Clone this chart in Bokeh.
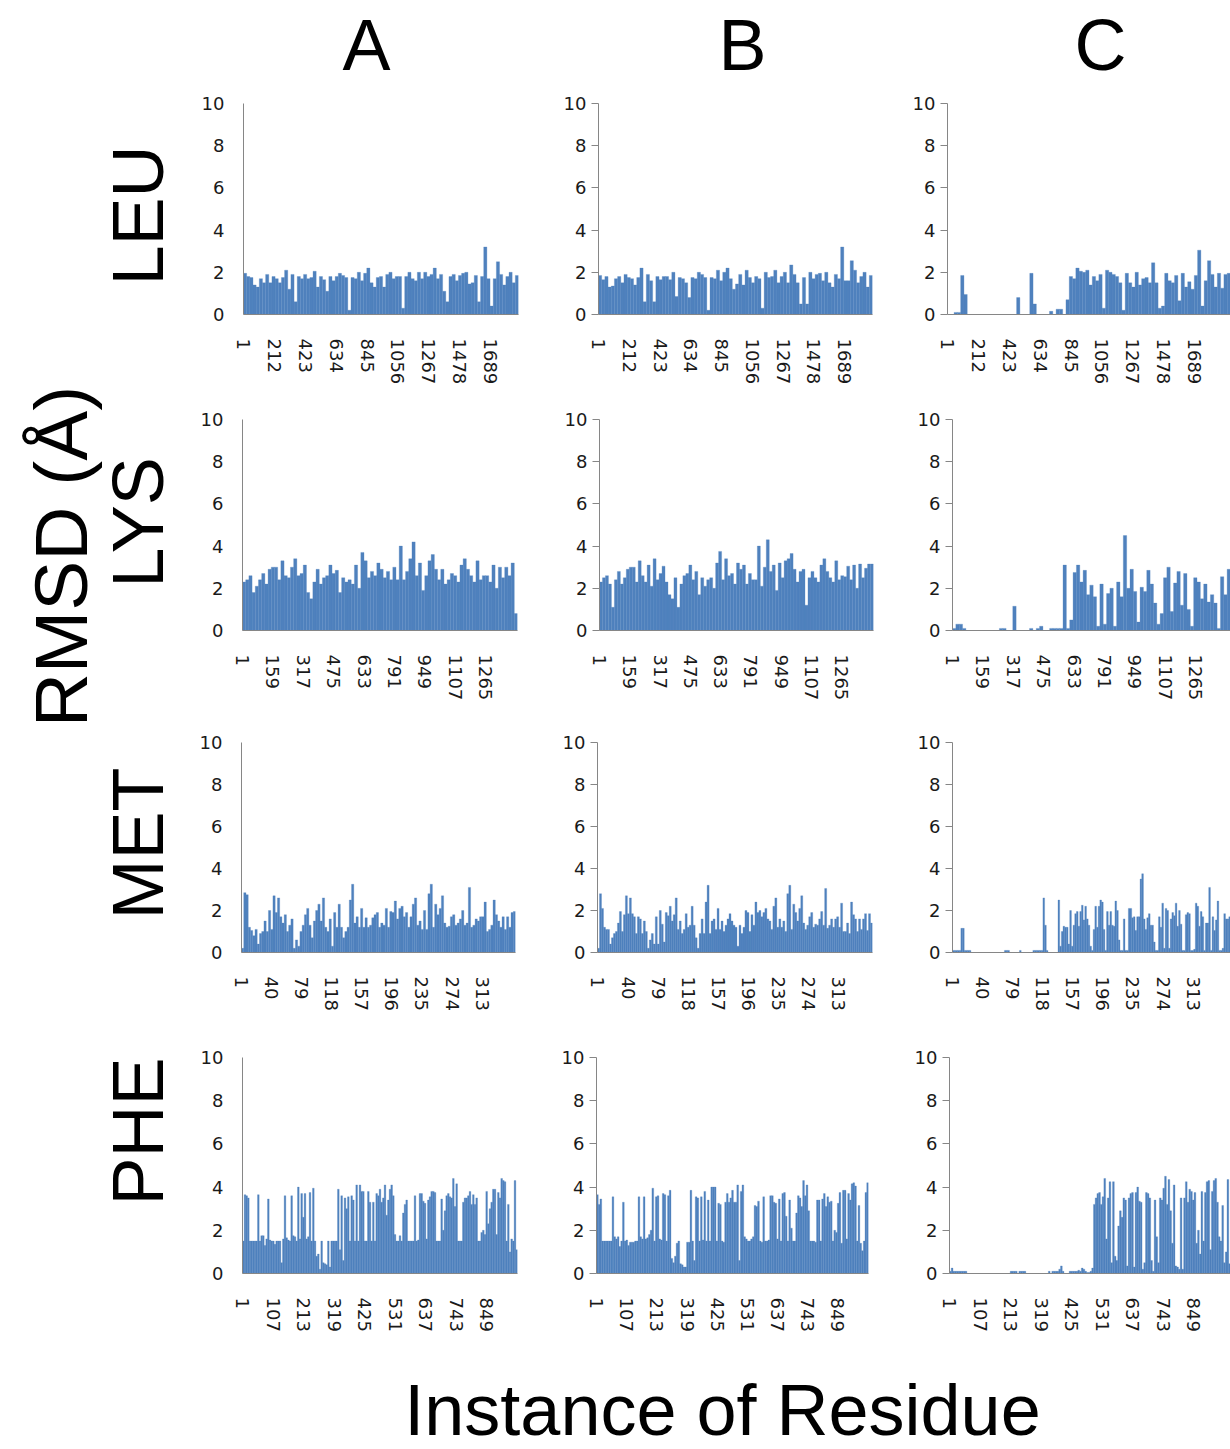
import numpy as np
from bokeh.plotting import figure
from bokeh.layouts import row, column
from bokeh.models import Range1d, FixedTicker
from bokeh.core.properties import value
from bokeh.embed import file_html
from bokeh.resources import INLINE

# ---------------- data ----------------
residues = ["LEU", "LYS", "MET", "PHE"]
column_names = ["A", "B", "C"]
y_label = "RMSD (Å)"
x_label = "Instance of Residue"

instance_counts = {"LEU": 1880, "LYS": 1430, "MET": 356, "PHE": 956}

tick_labels = {
    "LEU": [1, 212, 423, 634, 845, 1056, 1267, 1478, 1689],
    "LYS": [1, 159, 317, 475, 633, 791, 949, 1107, 1265],
    "MET": [1, 40, 79, 118, 157, 196, 235, 274, 313],
    "PHE": [1, 107, 213, 319, 425, 531, 637, 743, 849],
}
y_ticks = [0, 2, 4, 6, 8, 10]

leu_a = [1.95, 1.8, 1.75, 1.4, 1.3, 1.7, 1.5, 1.9, 1.5, 1.8, 1.7, 1.5, 1.75, 2.1, 1.2, 1.9, 0.6, 1.8, 1.7, 1.9,
         1.7, 1.75, 2.05, 1.3, 1.8, 1.65, 1.1, 1.8, 1.6, 1.8, 1.95, 1.85, 1.75, 0.2, 1.75, 1.7, 2.0, 1.6, 1.95, 2.2,
         1.5, 1.3, 1.75, 1.8, 1.3, 1.9, 2.0, 1.7, 1.8, 1.8, 0.3, 1.8, 2.0, 1.7, 1.6, 2.0, 1.7, 2.0, 1.8, 1.9,
         2.2, 1.7, 1.9, 1.1, 0.6, 1.8, 1.9, 1.6, 1.85, 1.95, 2.0, 1.45, 1.5, 1.85, 0.6, 1.8, 3.2, 1.7, 0.4, 1.7,
         2.5, 1.9, 1.4, 1.8, 2.0, 1.5, 1.85]
leu_b = [1.85, 1.65, 1.8, 1.3, 1.35, 1.7, 1.8, 1.5, 1.9, 1.75, 1.7, 1.4, 1.75, 2.2, 0.6, 1.9, 1.6, 0.6, 1.8, 1.65,
         1.8, 1.8, 1.65, 2.0, 0.85, 1.75, 1.7, 1.5, 0.8, 1.75, 1.7, 2.0, 1.9, 1.75, 0.2, 1.75, 1.7, 2.1, 1.6, 2.0,
         2.2, 1.7, 1.2, 1.45, 1.9, 1.4, 2.1, 1.75, 1.5, 1.8, 1.7, 0.3, 2.0, 1.75, 1.8, 2.1, 1.5, 1.8, 2.0, 1.5,
         2.35, 1.9, 1.5, 0.5, 1.75, 0.5, 2.0, 1.7, 1.9, 1.95, 1.6, 2.0, 1.5, 1.3, 1.9, 1.7, 3.2, 1.6, 1.6, 2.55,
         2.1, 1.5, 1.8, 2.0, 1.3, 1.85]
leu_c = [0, 0, 0.1, 0.1, 1.85, 0.95, 0, 0, 0, 0, 0, 0, 0, 0, 0, 0, 0, 0, 0, 0,
         0, 0.8, 0, 0, 0, 1.95, 0.5, 0, 0, 0, 0, 0.15, 0, 0.25, 0.25, 0, 0.7, 1.8, 1.7, 2.2,
         2.05, 2.0, 2.1, 1.4, 1.8, 1.6, 1.9, 0.3, 2.1, 2.0, 1.9, 1.8, 1.5, 0.2, 1.95, 1.5, 1.3, 2.0, 1.4, 1.7,
         1.75, 1.5, 2.45, 1.5, 0.3, 0.4, 1.95, 1.6, 1.5, 1.85, 0.65, 1.95, 1.3, 1.55, 1.2, 1.85, 3.05, 0.4, 1.6, 2.55,
         1.9, 1.3, 1.95, 1.25, 1.9, 1.95]

lys_a = [2.3, 2.4, 2.6, 1.8, 2.1, 2.4, 2.7, 2.2, 2.9, 3.0, 3.0, 2.4, 3.3, 2.6, 2.5, 3.0, 3.4, 2.6, 2.7, 3.1,
         1.8, 1.5, 2.3, 2.9, 2.2, 2.5, 2.6, 3.1, 2.7, 2.85, 1.8, 2.5, 2.3, 2.4, 2.2, 3.1, 2.0, 3.7, 3.3, 2.5,
         2.8, 2.6, 3.2, 2.9, 2.5, 2.8, 2.4, 3.0, 2.4, 4.0, 2.4, 2.8, 3.4, 4.2, 2.6, 3.2, 1.9, 2.6, 3.3, 3.6,
         2.9, 2.4, 2.9, 2.2, 2.4, 2.7, 2.6, 2.3, 3.1, 3.4, 2.9, 2.6, 2.3, 3.3, 2.4, 2.6, 2.6, 2.3, 3.1, 2.0,
         3.0, 2.5, 3.0, 2.6, 3.2, 0.8]
lys_b = [2.3, 2.5, 2.6, 2.2, 1.1, 2.4, 2.8, 2.2, 2.5, 2.9, 3.0, 3.0, 2.3, 3.3, 2.6, 2.3, 3.1, 2.1, 3.4, 2.4,
         2.7, 3.05, 2.3, 1.7, 1.5, 2.5, 1.1, 2.2, 2.6, 2.7, 3.1, 2.4, 2.8, 1.7, 2.5, 2.1, 2.4, 2.5, 2.0, 3.2,
         3.75, 2.4, 3.4, 2.6, 2.7, 2.2, 3.2, 2.9, 3.1, 2.2, 2.7, 2.4, 2.4, 4.0, 2.1, 3.0, 4.3, 2.8, 3.1, 1.9,
         3.2, 2.5, 3.3, 3.4, 3.65, 2.9, 2.3, 2.8, 2.9, 1.2, 2.5, 2.8, 2.5, 2.3, 3.1, 3.4, 2.8, 2.5, 2.3, 3.3,
         2.4, 2.6, 2.55, 3.05, 2.4, 3.1, 2.0, 3.15, 2.5, 2.95, 3.15, 3.15]
lys_c = [0.1, 0.3, 0.3, 0.1, 0, 0, 0, 0, 0, 0, 0, 0, 0, 0, 0.1, 0.1, 0, 0, 1.15, 0,
         0, 0, 0, 0.1, 0, 0.1, 0.2, 0, 0, 0.1, 0.1, 0.1, 0.1, 3.1, 0.1, 0.5, 2.75, 3.1, 2.3, 2.85,
         1.7, 2.15, 1.6, 0.2, 2.2, 0.3, 1.75, 2.0, 0.2, 2.3, 1.6, 4.5, 2.0, 2.9, 1.85, 0.4, 2.05, 1.85, 2.85, 2.2,
         1.3, 0.3, 0.8, 2.5, 3.0, 0.9, 2.25, 2.8, 1.2, 2.7, 1.0, 0.2, 2.5, 2.3, 1.5, 2.2, 1.35, 1.7, 1.3, 0.1,
         2.55, 1.7, 2.9]

met_a = [0.2, 2.85, 2.75, 1.2, 1.05, 0.8, 1.1, 0.4, 0.9, 1.0, 1.5, 1.0, 2.0, 1.1, 2.7, 1.9, 2.6, 1.7, 1.4, 1.8,
         1.0, 1.3, 1.6, 0.2, 0.6, 0.3, 1.0, 1.3, 1.8, 2.1, 1.3, 0.7, 1.5, 2.0, 2.3, 1.5, 2.6, 1.2, 1.0, 1.6,
         0.3, 1.9, 1.2, 2.3, 1.2, 0.7, 1.0, 1.2, 2.5, 3.25, 1.4, 1.7, 1.2, 2.1, 1.2, 1.65, 1.2, 1.3, 1.65, 1.8,
         1.9, 1.2, 1.4, 1.3, 2.1, 1.2, 1.95, 1.9, 2.45, 1.6, 2.1, 2.2, 1.7, 1.9, 1.2, 1.7, 2.3, 2.6, 1.3, 1.5,
         1.1, 2.0, 1.1, 2.8, 3.25, 1.2, 2.3, 1.8, 2.1, 2.7, 1.4, 1.2, 1.25, 1.7, 1.8, 1.3, 1.4, 1.6, 2.0, 1.3,
         1.4, 3.1, 1.2, 1.3, 1.6, 1.5, 1.7, 1.7, 2.4, 1.0, 1.1, 1.3, 2.5, 1.8, 1.5, 1.2, 1.7, 1.1, 1.7, 1.2,
         1.9, 1.95]
met_b = [0.2, 2.8, 2.1, 1.2, 1.1, 1.1, 0.4, 0.7, 0.9, 1.0, 1.4, 1.95, 1.0, 1.8, 2.7, 1.85, 2.6, 1.85, 1.7, 0.9,
         1.7, 1.6, 0.9, 1.5, 1.0, 0.2, 0.6, 0.9, 0.4, 1.7, 0.4, 2.0, 1.35, 0.5, 1.9, 1.75, 2.2, 1.5, 1.8, 2.6,
         1.1, 1.5, 0.9, 1.1, 1.85, 1.2, 1.3, 2.2, 1.3, 0.7, 0.2, 0.9, 1.6, 0.9, 2.4, 3.2, 0.9, 1.5, 1.6, 1.1,
         2.1, 1.1, 1.5, 1.0, 1.3, 1.6, 1.85, 1.5, 1.3, 1.2, 0.3, 1.3, 0.9, 1.2, 2.0, 1.9, 1.0, 1.8, 1.3, 2.4,
         1.9, 2.0, 1.7, 1.9, 2.1, 1.6, 1.5, 1.1, 2.2, 2.6, 1.2, 1.6, 1.2, 1.5, 1.0, 2.8, 3.2, 1.1, 2.3, 1.9,
         1.5, 2.1, 2.7, 1.4, 1.1, 1.3, 1.7, 1.9, 1.2, 1.35, 1.3, 1.6, 1.95, 1.3, 3.05, 1.15, 1.3, 1.6, 1.2, 1.6,
         1.7, 1.2, 2.35, 1.0, 1.0, 1.4, 0.9, 2.4, 1.8, 1.6, 1.0, 1.6, 1.1, 1.6, 1.85, 1.05, 1.85, 1.4]
met_c = [0.1, 0.1, 0.1, 0.1, 0.1, 1.15, 1.15, 0.1, 0.1, 0.1, 0.1, 0, 0, 0, 0, 0, 0, 0, 0, 0,
         0, 0, 0, 0, 0, 0, 0, 0, 0, 0, 0, 0.1, 0.1, 0.1, 0, 0, 0, 0, 0, 0, 0.1,
         0, 0, 0, 0, 0, 0, 0, 0.1, 0.1, 0.1, 0.1, 0.1, 0.1, 2.6, 1.3, 0.1, 0, 0, 0, 0, 0, 0,
         2.5, 0.3, 1.0, 1.25, 1.2, 1.2, 0.4, 2.0, 0.3, 1.3,
         1.85, 1.95, 1.25, 1.95, 2.25, 1.55, 2.2, 1.6, 1.3, 0.3, 0.1, 1.1, 2.2, 1.2, 2.2, 2.5, 2.4, 1.1, 0.1, 1.95,
         1.3, 1.95, 1.3, 1.25, 2.45, 2.0, 0.6, 0.1, 0.1, 1.6, 0.1, 0.1, 2.1, 2.1, 1.65, 1.7, 1.05, 1.7, 1.7, 3.5,
         3.75, 1.6, 1.1, 1.65, 1.85, 1.3, 1.3, 0.5, 0.1, 0.1, 1.7, 1.2, 2.35, 0.2, 2.1, 2.0, 0.2, 1.6, 1.9, 1.75,
         2.35, 1.25, 2.0, 1.35, 0.1, 0.1, 1.8, 1.9, 1.85, 0.1, 0.1, 0.15, 2.35, 2.2, 1.25, 1.95, 1.7, 0.1, 1.4, 1.4,
         3.1, 0.1, 1.7, 1.05, 1.55, 2.45, 0.1, 0.1, 0.2, 1.85, 1.6, 1.6, 1.7]

phe_a = [1.5, 3.65, 3.6, 3.5, 1.5, 1.5, 1.5, 1.5, 1.5, 3.65, 1.5, 1.75, 1.75, 1.3, 1.6, 3.45, 1.55, 1.5, 1.5, 1.35,
         1.5, 1.5, 1.5, 0.5, 1.6, 3.6, 1.65, 1.55, 1.5, 3.6, 1.75, 1.7, 1.5, 4.0, 1.6, 3.7, 2.6, 3.7, 1.6, 1.7,
         3.75, 1.5, 3.95, 1.5, 0.8, 0.9, 0.2, 1.5, 0.5, 0.45, 0.4, 1.5, 0.3, 1.5, 1.5, 1.5, 1.5, 3.9, 1.1, 3.6,
         0.6, 3.5, 3.0, 3.55, 1.5, 3.6, 3.4, 1.5, 4.1, 1.5, 4.1, 3.8, 3.8, 1.5, 1.5, 3.8, 3.3, 1.5, 3.3, 1.5,
         3.7, 3.6, 3.9, 3.3, 3.5, 4.1, 2.7, 3.4, 3.9, 4.1, 3.6, 1.8, 1.5, 1.5, 1.75, 1.5, 2.8, 3.2, 3.4, 1.5,
         1.5, 1.5, 1.5, 3.6, 1.5, 1.55, 3.7, 3.7, 3.35, 3.25, 1.6, 3.4, 3.55, 3.8, 3.8, 3.75, 1.5, 1.5, 1.5, 3.45,
         2.0, 2.9, 3.6, 3.7, 3.55, 3.5, 4.4, 3.1, 4.15, 1.5, 1.5, 1.5, 3.3, 3.5, 3.5, 3.6, 3.8, 3.2, 3.65, 3.2,
         3.5, 1.5, 1.5, 1.9, 2.0, 1.8, 3.8, 2.3, 3.0, 3.3, 3.9, 3.9, 1.8, 3.75, 3.5, 4.4, 4.3, 4.25, 1.5, 3.2,
         1.0, 1.6, 1.5, 4.3, 1.1]
phe_b = [3.65, 3.2, 3.45, 1.5, 1.5, 1.5, 1.5, 1.5, 1.5, 3.55, 1.7, 1.6, 1.7, 1.25, 1.5, 3.3, 1.5, 1.55, 1.3, 1.45,
         1.45, 1.45, 1.5, 1.5, 3.55, 1.7, 1.6, 3.55, 1.6, 1.65, 1.8, 2.0, 3.95, 1.5, 3.55, 3.6, 1.6, 1.55, 3.7, 3.65,
         1.5, 3.6, 3.85, 0.7, 0.5, 0.8, 1.4, 1.5, 0.45, 0.4, 0.3, 0.3, 1.45, 1.45, 3.85, 1.5, 0.6, 3.55, 3.5, 1.5,
         3.55, 1.55, 3.8, 1.5, 3.4, 1.5, 4.0, 4.0, 4.0, 1.5, 3.25, 3.2, 1.5, 1.45, 3.3, 3.7, 3.3, 3.5, 3.85, 3.3,
         3.3, 4.1, 0.6, 3.8, 4.1, 1.7, 1.6, 1.5, 1.5, 1.6, 1.7, 3.15, 3.1, 3.35, 1.5, 1.45, 3.55, 1.5, 1.5, 1.55,
         3.6, 3.6, 3.3, 3.25, 1.6, 3.45, 1.5, 3.7, 3.75, 2.65, 1.5, 3.4, 2.1, 1.5, 1.5, 2.8, 3.6, 3.5, 3.1, 4.3,
         3.6, 4.1, 2.9, 1.5, 1.5, 1.5, 1.45, 3.4, 3.4, 1.5, 3.45, 3.7, 3.1, 3.55, 3.3, 3.35, 1.5, 2.0, 1.9, 3.25,
         3.75, 1.4, 3.85, 3.85, 1.6, 3.7, 3.4, 4.15, 4.2, 4.05, 1.5, 3.15, 1.4, 1.05, 1.5, 3.75, 4.2]
phe_c = [0.1, 0.25, 0.1, 0.1, 0.1, 0.1, 0.1, 0.1, 0.1, 0.1, 0, 0, 0, 0, 0, 0, 0, 0, 0, 0,
         0, 0, 0, 0, 0, 0, 0, 0, 0, 0, 0, 0, 0, 0, 0, 0.1, 0.1, 0.1, 0.1, 0,
         0.1, 0.1, 0.1, 0.1, 0, 0, 0, 0, 0, 0, 0, 0, 0, 0, 0, 0, 0, 0.1, 0, 0.1,
         0.1, 0.1, 0.1, 0.2, 0.35, 0.1, 0, 0, 0, 0.1, 0.1, 0.1, 0.1, 0.1, 0.15, 0.1, 0.25, 0.2, 0.1, 0.05,
         0.05, 0.1, 0.25, 3.2, 3.5, 3.7, 3.75, 3.2, 3.55, 4.4, 1.6, 3.5, 4.25, 0.5, 4.25, 0.8, 0.6, 2.2, 2.9, 2.6,
         3.5, 3.4, 0.35, 3.5, 3.7, 3.75, 0.3, 3.75, 4.0, 3.35, 3.3, 0.2, 0.5, 3.75, 3.7, 3.5, 0.6, 0.1, 3.4, 1.7,
         0.5, 3.5, 3.4, 3.95, 4.5, 3.2, 4.35, 2.9, 1.4, 4.1, 0.35, 0.3, 0.2, 3.5, 0.2, 3.5, 4.25, 3.3, 3.9, 3.8,
         3.4, 3.75, 1.4, 2.0, 0.9, 3.8, 1.5, 3.75, 4.25, 4.3, 1.1, 3.8, 4.3, 4.4, 3.3, 1.7, 1.5, 3.15, 0.5, 1.0,
         4.35, 0.45]

series = {
    ("LEU", "A"): leu_a, ("LEU", "B"): leu_b, ("LEU", "C"): leu_c,
    ("LYS", "A"): lys_a, ("LYS", "B"): lys_b, ("LYS", "C"): lys_c,
    ("MET", "A"): met_a, ("MET", "B"): met_b, ("MET", "C"): met_c,
    ("PHE", "A"): phe_a, ("PHE", "B"): phe_b, ("PHE", "C"): phe_c,
}

# ---------------- layout / style ----------------
BAR = "#4F81BD"
AXIS = "#868686"
TICK_FONT = "DejaVu Sans"
BIG_FONT = "Liberation Sans"

col_widths = {"A": 360, "B": 355, "C": 335}
row_heights = [317, 320, 320, 320]
# (border_left, border_right, border_top, border_bottom) per panel
geom = {
    ("LEU", "A"): (63, 22, 13, 89), ("LEU", "B"): (58, 23, 15, 90), ("LEU", "C"): (52, 0, 8, 91),
    ("LYS", "A"): (62, 23, 14, 90), ("LYS", "B"): (59, 22, 13, 95), ("LYS", "C"): (57, 0, 12, 92),
    ("MET", "A"): (61, 25, 17, 88), ("MET", "B"): (57, 23, 13, 88), ("MET", "C"): (57, 0, 8, 93),
    ("PHE", "A"): (62, 23, 12, 92), ("PHE", "B"): (56, 27, 11, 86), ("PHE", "C"): (54, 0, 11, 91),
}


def make_panel(res, col, h):
    w = col_widths[col]
    bl, br, bt, bb = geom[(res, col)]
    n = instance_counts[res]
    if col == "C":
        fa = col_widths["A"] - geom[(res, "A")][0] - geom[(res, "A")][1]
        fc = w - bl - br
        n = n * fc / fa  # visible part of the cut-off panel
    vals = np.array(series[(res, col)], dtype=float)
    m = len(vals)
    step = n / m
    xs = 0.5 + step * (np.arange(m) + 0.5)
    p = figure(width=w, height=h, x_range=Range1d(0.5, 0.5 + n), y_range=Range1d(0, 10),
               output_backend="svg", toolbar_location=None,
               min_border_left=bl, min_border_right=br, min_border_top=bt, min_border_bottom=bb)
    p.vbar(x=xs, width=step, top=vals, bottom=0, fill_color=BAR, line_color=BAR, line_width=0.3)
    p.outline_line_color = None
    p.grid.visible = False
    p.background_fill_color = "white"
    p.border_fill_color = "white"

    ya = p.yaxis[0]
    ya.ticker = FixedTicker(ticks=y_ticks)
    ya.axis_line_color = AXIS
    ya.axis_line_width = 1
    ya.major_tick_line_color = None if col == "A" else AXIS
    ya.major_tick_out = 7
    ya.major_tick_in = 0
    ya.minor_tick_line_color = None
    ya.major_label_text_font = TICK_FONT
    ya.major_label_text_font_size = "18px"
    ya.major_label_text_color = "#1a1a1a"
    ya.major_label_standoff = 5 if col != "A" else 12

    xa = p.xaxis[0]
    xa.ticker = FixedTicker(ticks=tick_labels[res])
    xa.axis_line_color = AXIS
    xa.major_tick_line_color = None
    xa.minor_tick_line_color = None
    xa.major_label_orientation = "vertical"
    xa.major_label_text_font = TICK_FONT
    xa.major_label_text_font_size = "18px"
    xa.major_label_text_color = "#1a1a1a"
    xa.major_label_standoff = 18
    return p


def blank(w, h):
    p = figure(width=w, height=h, x_range=Range1d(0, w), y_range=Range1d(0, h),
               output_backend="svg", toolbar_location=None, min_border=0)
    p.axis.visible = False
    p.grid.visible = False
    p.outline_line_color = None
    return p


BIG = "72px"

# header with column letters (positions are cap centres)
top = blank(1230, 88)
top.text(x=[366, 742, 1100], y=[44, 44, 44], text=column_names, text_align="center",
         text_baseline="middle", text_font=value(BIG_FONT), text_font_size=BIG, text_color="black")

# left side labels
left_h = sum(row_heights)
left = blank(180, left_h)
left.text(x=[137, 137, 137, 137], y=[1150, 843, 522, 234], text=residues, angle=np.pi / 2,
          text_align="center", text_baseline="middle", text_font=value(BIG_FONT),
          text_font_size=BIG, text_color="black")
left.text(x=[60], y=[809], text=[y_label], angle=np.pi / 2, text_align="center",
          text_baseline="middle", text_font=value(BIG_FONT), text_font_size="75px", text_color="black")

# bottom label
bottom = blank(1230, 84)
bottom.text(x=[722], y=[39.5], text=[x_label], text_align="center", text_baseline="middle",
            text_font=value(BIG_FONT), text_font_size="72px", text_color="black")

rows = []
for res, h in zip(residues, row_heights):
    rows.append(row(*[make_panel(res, c, h) for c in column_names], spacing=0))
grid = column(*rows, spacing=0)
layout = column(top, row(left, grid, spacing=0), bottom, spacing=0)

open("out.html", "w").write(file_html(layout, INLINE))
